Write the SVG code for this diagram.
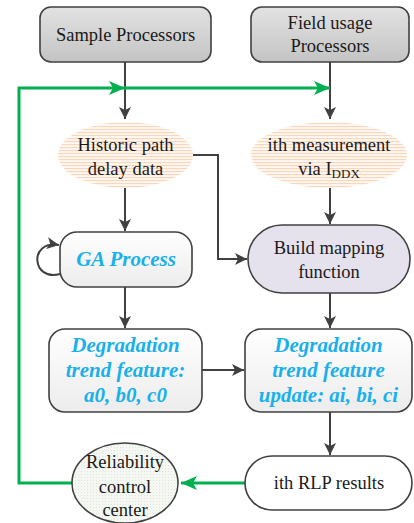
<svg xmlns="http://www.w3.org/2000/svg" width="414" height="523" viewBox="0 0 414 523" font-family="Liberation Serif, Times New Roman, serif">
<defs>
<style>
.t{font-size:18.5px;fill:#1a1a1a;text-anchor:middle}
.b{font-size:21px;font-weight:bold;font-style:italic;fill:#1ab0ea;text-anchor:middle}
.c{fill:none;stroke:#404040;stroke-width:2}
.g{fill:none;stroke:#00b050;stroke-width:3}
.box{stroke:#404040;stroke-width:1.6}
</style>
<linearGradient id="gray" x1="0" y1="0" x2="0" y2="1">
<stop offset="0" stop-color="#e2e2e2"/><stop offset="1" stop-color="#c4c4c4"/>
</linearGradient>
<linearGradient id="light" x1="0" y1="0" x2="0" y2="1">
<stop offset="0" stop-color="#ffffff"/><stop offset="1" stop-color="#ececec"/>
</linearGradient>
<pattern id="stripe" width="4" height="3" patternUnits="userSpaceOnUse">
<rect width="4" height="3" fill="#fff8f2"/><rect width="4" height="1.1" fill="#fad6bb"/>
</pattern>
<pattern id="dots" width="3" height="3" patternUnits="userSpaceOnUse">
<rect width="3" height="3" fill="#f4f7f2"/><rect width="1" height="1" fill="#dde8da"/>
</pattern>
<marker id="ah" markerWidth="12" markerHeight="12" viewBox="0 0 12 12" refX="12" refY="6" orient="auto" markerUnits="userSpaceOnUse">
<path d="M0,0 L12,6 L0,12 L3,6 Z" fill="#404040"/>
</marker>
<marker id="gh" markerWidth="16" markerHeight="14" viewBox="0 0 16 14" refX="16" refY="7" orient="auto" markerUnits="userSpaceOnUse">
<path d="M0,0 L16,7 L0,14 L4,7 Z" fill="#00b050"/>
</marker>
</defs>
<rect width="414" height="523" fill="#ffffff"/>

<g id="connectors">
<path class="c" d="M125,62 V119" marker-end="url(#ah)"/>
<path class="c" d="M330,62 V119" marker-end="url(#ah)"/>
<path class="g" d="M72,483 H19 V88 H125" marker-end="url(#gh)"/>
<path class="g" d="M125,88 H330" marker-end="url(#gh)"/>
<path class="c" d="M125,188 V231" marker-end="url(#ah)"/>
<path class="c" d="M330,188 V224" marker-end="url(#ah)"/>
<path class="c" d="M193,155 H218 V259 H247" marker-end="url(#ah)"/>
<path class="c" d="M60,274 C32,282 28,240 59,245" marker-end="url(#ah)"/>
<path class="c" d="M125,287 V328" marker-end="url(#ah)"/>
<path class="c" d="M330,293 V328" marker-end="url(#ah)"/>
<path class="c" d="M202,370 H244" marker-end="url(#ah)"/>
<path class="c" d="M330,412 V455" marker-end="url(#ah)"/>
<path class="g" d="M245,483 H181" marker-end="url(#gh)"/>
</g>

<g id="sample">
<rect class="box" x="40" y="7" width="171" height="55" rx="11" fill="url(#gray)"/>
<text class="t" x="125.5" y="41">Sample Processors</text>
</g>
<g id="field">
<rect class="box" x="251" y="7" width="158" height="55" rx="11" fill="url(#gray)"/>
<text class="t" x="330" y="29">Field usage</text>
<text class="t" x="330" y="52">Processors</text>
</g>
<g id="historic">
<ellipse cx="125.5" cy="155" rx="67.5" ry="33" fill="url(#stripe)"/>
<text class="t" x="125.5" y="151">Historic path</text>
<text class="t" x="125.5" y="175">delay data</text>
</g>
<g id="measurement">
<ellipse cx="329" cy="155" rx="78" ry="33" fill="url(#stripe)"/>
<text class="t" x="329" y="151">ith measurement</text>
<text class="t" x="329" y="175">via I<tspan font-size="13" dy="3">DDX</tspan></text>
</g>
<g id="ga">
<rect class="box" x="60" y="232" width="132" height="55" rx="17" fill="url(#light)"/>
<text class="b" x="126" y="266" font-size="20">GA Process</text>
</g>
<g id="build">
<rect class="box" x="248" y="225" width="162" height="68" rx="34" fill="#e5e1ed"/>
<text class="t" x="329" y="254">Build mapping</text>
<text class="t" x="329" y="278">function</text>
</g>
<g id="deg0">
<rect class="box" x="49" y="329" width="153" height="83" rx="16" fill="url(#light)"/>
<text class="b" x="125.5" y="352">Degradation</text>
<text class="b" x="125.5" y="377">trend feature:</text>
<text class="b" x="125.5" y="402">a0, b0, c0</text>
</g>
<g id="degi">
<rect class="box" x="245" y="329" width="167" height="83" rx="16" fill="url(#light)"/>
<text class="b" x="328.5" y="352">Degradation</text>
<text class="b" x="328.5" y="377">trend feature</text>
<text class="b" x="328.5" y="402">update: ai, bi, ci</text>
</g>
<g id="rlp">
<rect class="box" x="245" y="456" width="167" height="54" rx="27" fill="#ffffff"/>
<text class="t" x="329" y="489">ith RLP results</text>
</g>
<g id="reliability">
<ellipse class="box" cx="125" cy="483" rx="53" ry="40" fill="url(#dots)"/>
<text class="t" x="125" y="468">Reliability</text>
<text class="t" x="125" y="493">control</text>
<text class="t" x="125" y="516">center</text>
</g>
</svg>
